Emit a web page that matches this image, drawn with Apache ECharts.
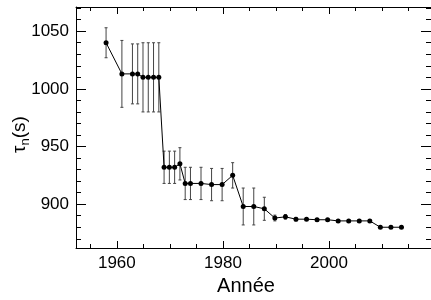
<!DOCTYPE html>
<html>
<head>
<meta charset="utf-8">
<script src="https://cdn.jsdelivr.net/npm/echarts@6/dist/echarts.min.js"></script>
<style>
  html, body { margin: 0; padding: 0; background: #fff; }
  #chart { width: 431px; height: 300px; }
</style>
</head>
<body>
<div id="chart"></div>
<script>
const years = [1958, 1961, 1963, 1964, 1965, 1966, 1967, 1968, 1969, 1970, 1971, 1972,
  1973, 1974, 1976, 1978, 1980, 1982, 1984, 1986, 1988, 1990, 1992, 1994, 1996, 1998,
  2000, 2002, 2004, 2006, 2008, 2010, 2012, 2014];
const lifetimes = [1040, 1013, 1013, 1013, 1010, 1010, 1010, 1010, 932, 932, 932, 935,
  918, 918, 918, 917, 917, 925, 898, 898, 896, 888, 889, 887, 887, 886.5,
  886.5, 885.5, 885.5, 885.5, 885.5, 880, 880, 880];
const errors = [13, 29, 26, 26, 30, 30, 30, 30, 14, 14, 14, 14,
  14, 14, 14, 14, 14, 11, 16, 16, 10, 2.5, 2, 1.5, 1, 1,
  1, 1, 1, 1, 1, 1, 1, 1];

const xTickLabels = [1960, 1980, 2000];
const yTickLabels = [900, 950, 1000, 1050];

const FONT = '"Liberation Sans", Arial, sans-serif';
const X_MIN = 1952.3, X_MAX = 2019.6, Y_MIN = 862, Y_MAX = 1071;
const box = { left: 76, top: 7, width: 357, height: 241 };
const xPx = v => box.left + (v - X_MIN) / (X_MAX - X_MIN) * box.width;
const yPx = v => box.top + (Y_MAX - v) / (Y_MAX - Y_MIN) * box.height;

const xGrid = (lo, hi) => ({ left: xPx(lo), width: xPx(hi) - xPx(lo), top: box.top, height: box.height });
const yGrid = (lo, hi) => ({ left: box.left, width: box.width, top: yPx(hi), height: yPx(lo) - yPx(hi) });

const black = { color: '#000', width: 1 };
const frameAxis = (gridIndex, position, min, max) => ({
  type: 'value', gridIndex, position, min, max,
  axisLine: { onZero: false, lineStyle: black },
  axisTick: { show: false }, axisLabel: { show: false }, splitLine: { show: false }
});
const tickAxis = (gridIndex, position, min, max, interval, len, labels) => ({
  type: 'value', gridIndex, position, min, max, interval,
  axisLine: { show: false, onZero: false },
  axisTick: { inside: true, length: len, lineStyle: black },
  axisLabel: labels
    ? { show: true, color: '#000', fontFamily: FONT, fontSize: 17, margin: 7, formatter: v => String(v) }
    : { show: false },
  splitLine: { show: false }
});
const hidden = gridIndex => ({ type: 'value', gridIndex, show: false });

const xMaj = xTickLabels, yMaj = yTickLabels;

const chart = echarts.init(document.getElementById('chart'));
chart.setOption({
  animation: false,
  grid: [
    box,
    xGrid(1955, 2015),
    xGrid(xMaj[0], xMaj[xMaj.length - 1]),
    yGrid(870, 1070),
    yGrid(yMaj[0], yMaj[yMaj.length - 1])
  ],
  xAxis: [
    frameAxis(0, 'bottom', X_MIN, X_MAX),
    frameAxis(0, 'top', X_MIN, X_MAX),
    tickAxis(1, 'bottom', 1955, 2015, 5, 4, false),
    tickAxis(1, 'top', 1955, 2015, 5, 4, false),
    tickAxis(2, 'bottom', xMaj[0], xMaj[xMaj.length - 1], 20, 7, true),
    tickAxis(2, 'top', xMaj[0], xMaj[xMaj.length - 1], 20, 7, false),
    hidden(3), hidden(4)
  ],
  yAxis: [
    frameAxis(0, 'left', Y_MIN, Y_MAX),
    frameAxis(0, 'right', Y_MIN, Y_MAX),
    hidden(1), hidden(2),
    tickAxis(3, 'left', 870, 1070, 10, 5, false),
    tickAxis(3, 'right', 870, 1070, 10, 5, false),
    tickAxis(4, 'left', yMaj[0], yMaj[yMaj.length - 1], 50, 10, true),
    tickAxis(4, 'right', yMaj[0], yMaj[yMaj.length - 1], 50, 10, false)
  ],
  graphic: [
    {
      type: 'text', x: 246, y: 286.5,
      style: { text: 'Année', fontFamily: FONT, fontSize: 20, fill: '#000', align: 'center', verticalAlign: 'middle' }
    },
    {
      type: 'text', x: 21, y: 134.5, rotation: Math.PI / 2,
      style: {
        text: '{a|τ}{b|n}{a|(s)}', align: 'center', verticalAlign: 'middle',
        rich: {
          a: { fontFamily: FONT, fontSize: 19, lineHeight: 22, verticalAlign: 'top', fill: '#000' },
          b: { fontFamily: FONT, fontSize: 13, lineHeight: 13, verticalAlign: 'bottom', padding: [9, 0, 0, 0], fill: '#000' }
        }
      }
    }
  ],
  series: [
    {
      type: 'custom', xAxisIndex: 0, yAxisIndex: 0, z: 1,
      data: years.map((y, i) => [y, lifetimes[i] - errors[i], lifetimes[i] + errors[i]]),
      encode: { x: 0, y: [1, 2] },
      renderItem: (params, api) => {
        const x = api.value(0);
        const hi = api.coord([x, api.value(2)]);
        const lo = api.coord([x, api.value(1)]);
        const st = { stroke: '#444', lineWidth: 1 };
        return {
          type: 'group',
          children: [
            { type: 'line', shape: { x1: hi[0], y1: hi[1], x2: lo[0], y2: lo[1] }, style: st },
            { type: 'line', shape: { x1: hi[0] - 1.5, y1: hi[1], x2: hi[0] + 1.5, y2: hi[1] }, style: st },
            { type: 'line', shape: { x1: lo[0] - 1.5, y1: lo[1], x2: lo[0] + 1.5, y2: lo[1] }, style: st }
          ]
        };
      }
    },
    {
      type: 'line', xAxisIndex: 0, yAxisIndex: 0, z: 3,
      data: years.map((y, i) => [y, lifetimes[i]]),
      symbol: 'circle', symbolSize: 5, showAllSymbol: true,
      itemStyle: { color: '#000' },
      lineStyle: { color: '#000', width: 1 }
    }
  ]
});
</script>
</body>
</html>
